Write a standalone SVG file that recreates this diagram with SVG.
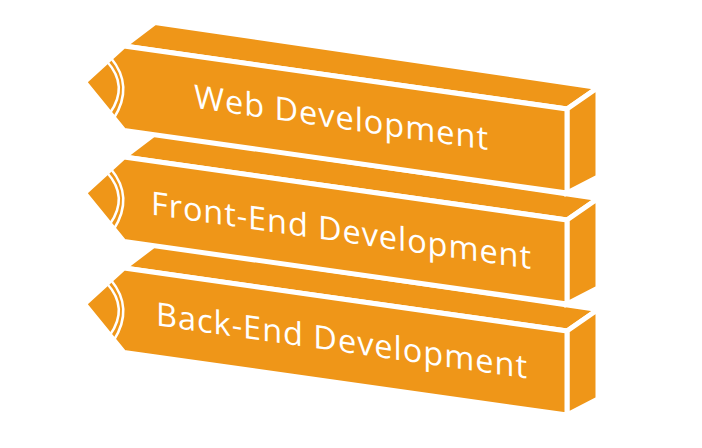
<svg xmlns="http://www.w3.org/2000/svg" width="702" height="448" viewBox="0 0 702 448">
<style>
.face{fill:#EF9618;stroke:#fff;stroke-width:5;stroke-linejoin:miter}
.arc{fill:none;stroke:#fff;stroke-width:2.5}
.label{font-family:"Open Sans","Noto Sans",sans-serif;font-size:32.5px;fill:#fff}
</style>
<defs>
<g id="pencil">
<polygon class="face" points="124,46 567,109 598,87.5 155,22.5"/>
<polygon class="face" points="567,109 598,87.5 598,177 567,193"/>
<polygon class="face" points="84.5,82 124,46 567,109 567,193 124,130.5"/>
<path class="arc" d="M111,58 Q134,86 114,118"/>
<path class="arc" d="M107,61.5 Q129,86 110,113"/>
</g>
</defs>
<rect width="702" height="448" fill="#fff"/>
<g id="back-end">
<use href="#pencil" transform="translate(0,222)"/>
<text class="label" transform="matrix(1,0.143,0,1,0,0)" x="156" y="303" textLength="371" lengthAdjust="spacing">Back-End Development</text>
</g>
<g id="front-end">
<use href="#pencil" transform="translate(0,111)"/>
<text class="label" transform="matrix(1,0.143,0,1,0,0)" x="151" y="193" textLength="380" lengthAdjust="spacing">Front-End Development</text>
</g>
<g id="web">
<use href="#pencil"/>
<text class="label" transform="matrix(1,0.143,0,1,0,0)" x="194" y="80" textLength="294" lengthAdjust="spacing">Web Development</text>
</g>
</svg>
